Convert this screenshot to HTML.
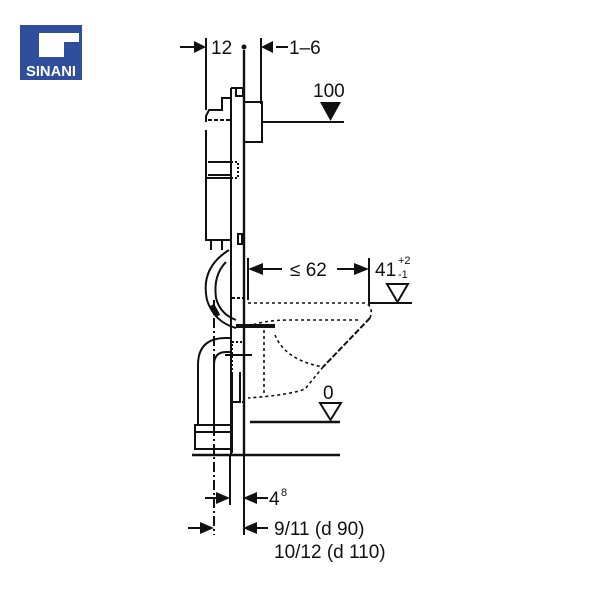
<!DOCTYPE html>
<html><head><style>
body{margin:0;background:#fff;width:600px;height:600px;overflow:hidden}
svg{display:block}
text{font-family:"Liberation Sans",sans-serif;fill:#111}
</style></head><body>
<svg width="600" height="600" viewBox="0 0 600 600" xmlns="http://www.w3.org/2000/svg">
<!-- logo -->
<rect x="20" y="25" width="62" height="55" fill="#2f4f9c"/>
<path d="M39 33 H79 V42 H64 V57 H39 Z" fill="#fff"/>
<text x="51" y="76" font-size="15" font-weight="bold" text-anchor="middle" style="fill:#fff" textLength="50" lengthAdjust="spacingAndGlyphs">SINANI</text>

<g stroke="#111" fill="none" stroke-width="2">
<!-- top dims -->
<line x1="206" y1="38" x2="206" y2="110"/>
<line x1="261" y1="38" x2="261" y2="104"/>
<line x1="180" y1="47" x2="198" y2="47"/>
<line x1="276" y1="47" x2="288" y2="47"/>
<!-- panel -->
<line x1="231" y1="88" x2="231" y2="455"/>
<line x1="244" y1="50" x2="244" y2="455" stroke-width="2.4"/>
<line x1="231" y1="88" x2="244" y2="88"/>
<rect x="236" y="88" width="7" height="8"/>
<!-- flush plate -->
<rect x="244" y="102" width="18" height="40"/>
<line x1="262" y1="122" x2="344" y2="122"/>
<!-- cistern -->
<path d="M231 98 H222 V110 H209 L206 116 V122 M206 130 V240 H231"/>
<line x1="208" y1="120" x2="231" y2="120" stroke-dasharray="4 2"/>
<line x1="208" y1="162" x2="231" y2="162"/>
<line x1="208" y1="175" x2="231" y2="175"/>
<line x1="206" y1="178" x2="231" y2="178"/>
<rect x="231" y="162" width="7" height="16" stroke-dasharray="2 2"/>
<rect x="238" y="234" width="4" height="10"/>
<line x1="211" y1="240" x2="211" y2="250"/>
<line x1="222" y1="240" x2="222" y2="250"/>
<!-- S-curve pipe -->
<path d="M229 250 Q200 268 207 300 Q214 322 236 328"/>
<path d="M226 262 Q213 275 216 298 Q220 314 236 320"/>
<line x1="212" y1="305" x2="218" y2="316" stroke-width="5"/>
<line x1="232" y1="298" x2="244" y2="298" stroke-dasharray="3 2"/>
<!-- bracket -->
<line x1="236" y1="326" x2="275" y2="326" stroke-width="4"/>
<!-- lower pipe -->
<path d="M198 425 V365 Q198 338 226 338 H232"/>
<path d="M214 425 V365 Q214 352 226 352 H232"/>
<rect x="195" y="425" width="37" height="24"/>
<line x1="195" y1="432" x2="232" y2="432"/>
<rect x="232" y="342" width="12" height="60" stroke-dasharray="2 2"/>
<line x1="225" y1="355" x2="252" y2="355"/>
<path d="M232 372 V402 H240 V372"/>
<line x1="232" y1="402" x2="232" y2="453"/>
<!-- centerline / bottom verticals -->
<line x1="214" y1="300" x2="214" y2="535" stroke-dasharray="10 3 2 3"/>
<line x1="230" y1="455" x2="230" y2="505"/>
<line x1="244" y1="455" x2="244" y2="535"/>
<!-- floor lines -->
<line x1="192" y1="455" x2="340" y2="455" stroke-width="2.4"/>
<line x1="250" y1="422" x2="340" y2="422" stroke-width="2.4"/>
<!-- ≤62 dims -->
<line x1="248" y1="258" x2="248" y2="300"/>
<line x1="369" y1="258" x2="369" y2="305"/>
<line x1="262" y1="269" x2="282" y2="269"/>
<line x1="337" y1="269" x2="356" y2="269"/>
<line x1="370" y1="303" x2="412" y2="303"/>
<path d="M387 284 H408 L397.5 302 Z"/>
<path d="M320 403 H341 L330.5 420 Z"/>
<!-- bowl dashed -->
<g stroke-dasharray="3 3" stroke-width="1.6">
<path d="M248 303 H365 Q374 306 370 318"/>
<path d="M323 367 L305 389 Q290 395 248 398"/>
<path d="M248 327 Q262 320 290 320 H360"/>
<path d="M275 335 Q285 360 323 367"/>
<line x1="264" y1="330" x2="264" y2="396"/>
</g>
<line x1="370" y1="318" x2="323" y2="367" stroke-dasharray="6 2"/>
<!-- bottom dims -->
<line x1="205" y1="498" x2="218" y2="498"/>
<line x1="255" y1="498" x2="268" y2="498"/>
<line x1="188" y1="528" x2="202" y2="528"/>
<line x1="255" y1="528" x2="268" y2="528"/>
</g>
<!-- arrowheads -->
<g fill="#111">
<circle cx="244" cy="47" r="2.5"/>
<path d="M194 41 L206 47 L194 53 Z"/>
<path d="M273 41 L261 47 L273 53 Z"/>
<path d="M320 102 H341 L330.5 121 Z"/>
<path d="M248 269 L263 263 L263 275 Z"/>
<path d="M369 269 L354 263 L354 275 Z"/>
<path d="M216 492 L230 498 L216 504 Z"/>
<path d="M257 492 L243 498 L257 504 Z"/>
<path d="M200 522 L214 528 L200 534 Z"/>
<path d="M257 522 L243 528 L257 534 Z"/>
</g>
<text x="211" y="54" font-size="19">12</text>
<text x="289" y="54" font-size="19">1–6</text>
<text x="313" y="97" font-size="19">100</text>
<text x="290" y="276" font-size="19">≤ 62</text>
<text x="375" y="276" font-size="19">41</text>
<text x="398" y="264" font-size="11">+2</text>
<text x="398" y="278" font-size="11">-1</text>
<text x="323" y="399" font-size="19">0</text>
<text x="269" y="505" font-size="19">4</text>
<text x="281" y="496" font-size="11">8</text>
<text x="274" y="535" font-size="19">9/11   (d 90)</text>
<text x="274" y="558" font-size="19">10/12 (d 110)</text>
</svg>
</body></html>
